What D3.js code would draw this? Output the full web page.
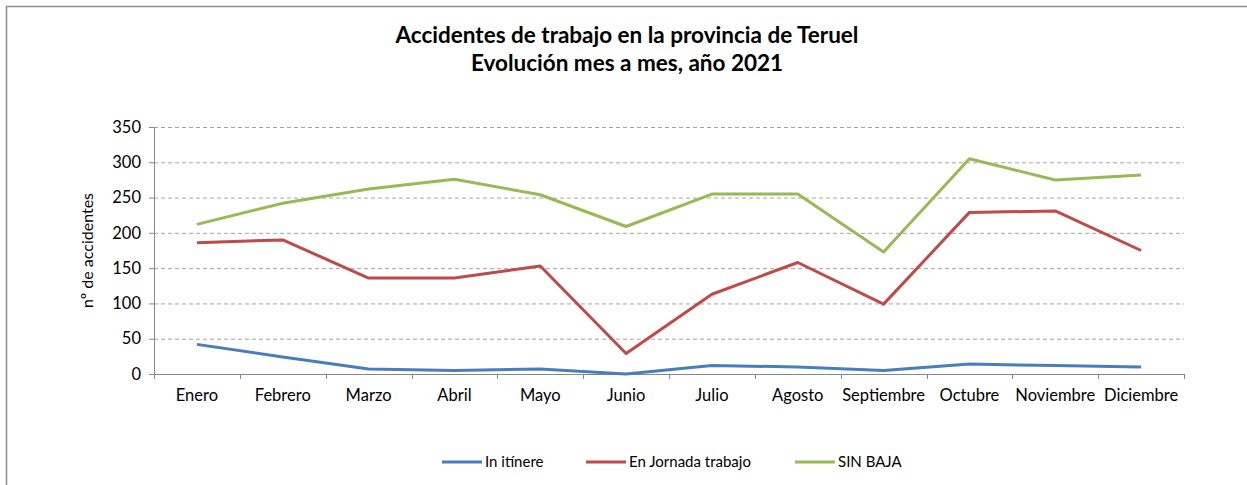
<!DOCTYPE html>
<html>
<head>
<meta charset="utf-8">
<script src="https://cdn.jsdelivr.net/npm/d3@7"></script>
<style>
  body { margin: 0; background: #fff; }
  text { font-family: Lato, "Open Sans", sans-serif; fill: #000; }
</style>
</head>
<body>
<div id="chart"></div>
<script>
// data
var months = ["Enero", "Febrero", "Marzo", "Abril", "Mayo", "Junio", "Julio",
  "Agosto", "Septiembre", "Octubre", "Noviembre", "Diciembre"];
var inItinere = [42, 24, 7, 5, 7, 0, 12, 10, 5, 14, 12, 10];
var enJornada = [186, 190, 136, 136, 153, 29, 113, 158, 99, 229, 231, 175];
var sinBaja = [212, 242, 262, 276, 254, 209, 255, 255, 173, 305, 275, 282];
var yTicks = [0, 50, 100, 150, 200, 250, 300, 350];

var series = [
  { name: "In itínere", values: inItinere, color: "#4a7ebb" },
  { name: "En Jornada trabajo", values: enJornada, color: "#be4b48" },
  { name: "SIN BAJA", values: sinBaja, color: "#98b954" }
];

var W = 1247, H = 485;
var margin = { top: 127, right: 63, bottom: 111, left: 154 };
var width = W - margin.left - margin.right,
    height = H - margin.top - margin.bottom;

var svg = d3.select("#chart").append("svg")
  .attr("width", W).attr("height", H);

// chart frame
svg.append("rect")
  .attr("x", 6.5).attr("y", 6.5)
  .attr("width", W + 10).attr("height", H + 10)
  .attr("fill", "none").attr("stroke", "#8c8c8c").attr("stroke-width", 1.5);

// title
svg.append("text").attr("x", 627).attr("y", 43)
  .attr("text-anchor", "middle").style("font-weight", "bold").style("font-size", "22.5px")
  .text("Accidentes de trabajo en la provincia de Teruel");
svg.append("text").attr("x", 627).attr("y", 71)
  .attr("text-anchor", "middle").style("font-weight", "bold").style("font-size", "22.5px")
  .text("Evolución mes a mes, año 2021");

var g = svg.append("g")
  .attr("transform", "translate(" + margin.left + "," + margin.top + ")");

var x = d3.scaleBand().domain(months).range([0, width]);
var y = d3.scaleLinear().domain([0, 350]).range([height, 0]);

// dashed gridlines
g.append("g")
  .selectAll("line")
  .data(yTicks.filter(function (d) { return d > 0; }))
  .enter().append("line")
  .attr("x1", 0).attr("x2", width)
  .attr("y1", function (d) { return y(d) + 0.5; })
  .attr("y2", function (d) { return y(d) + 0.5; })
  .attr("stroke", "#a6a6a6").attr("stroke-dasharray", "4,3");

// y axis
var yAxis = g.append("g")
  .call(d3.axisLeft(y).tickValues(yTicks).tickSize(5).tickPadding(8));
yAxis.select(".domain").attr("stroke", "#868686");
yAxis.selectAll(".tick line").attr("stroke", "#868686");
yAxis.selectAll("text").style("font-size", "16.5px").attr("fill", "#000");

// x axis, ticks between categories
var xAxis = g.append("g")
  .attr("transform", "translate(0," + height + ")")
  .call(d3.axisBottom(x).tickSize(0).tickPadding(15));
xAxis.select(".domain").attr("stroke", "#868686");
xAxis.selectAll("text").style("font-size", "16.5px").attr("fill", "#000");
g.append("g").selectAll("line")
  .data(d3.range(months.length + 1))
  .enter().append("line")
  .attr("x1", function (i) { return Math.round(i * x.step()) + 0.5; })
  .attr("x2", function (i) { return Math.round(i * x.step()) + 0.5; })
  .attr("y1", height).attr("y2", height + 5)
  .attr("stroke", "#868686");

// y label
svg.append("text")
  .attr("transform", "translate(93," + (margin.top + height / 2) + ") rotate(-90)")
  .attr("text-anchor", "middle").style("font-size", "16px")
  .text("nº de accidentes");

// lines
var line = d3.line()
  .x(function (d, i) { return x(months[i]) + x.bandwidth() / 2; })
  .y(function (d) { return y(d); });

g.selectAll(".serie")
  .data(series)
  .enter().append("path")
  .attr("class", "serie")
  .attr("d", function (d) { return line(d.values); })
  .attr("fill", "none")
  .attr("stroke", function (d) { return d.color; })
  .attr("stroke-width", 3)
  .attr("stroke-linejoin", "round");

// legend
var legendX = [442, 586, 795];
var legend = svg.selectAll(".legend")
  .data(series)
  .enter().append("g")
  .attr("class", "legend")
  .attr("transform", function (d, i) { return "translate(" + legendX[i] + ",462)"; });
legend.append("line")
  .attr("x1", 0).attr("x2", 40).attr("y1", 0).attr("y2", 0)
  .attr("stroke", function (d) { return d.color; })
  .attr("stroke-width", 3);
legend.append("text")
  .attr("x", 43).attr("y", 0).attr("dy", "0.35em")
  .style("font-size", "15px")
  .text(function (d) { return d.name; });
</script>
</body>
</html>
